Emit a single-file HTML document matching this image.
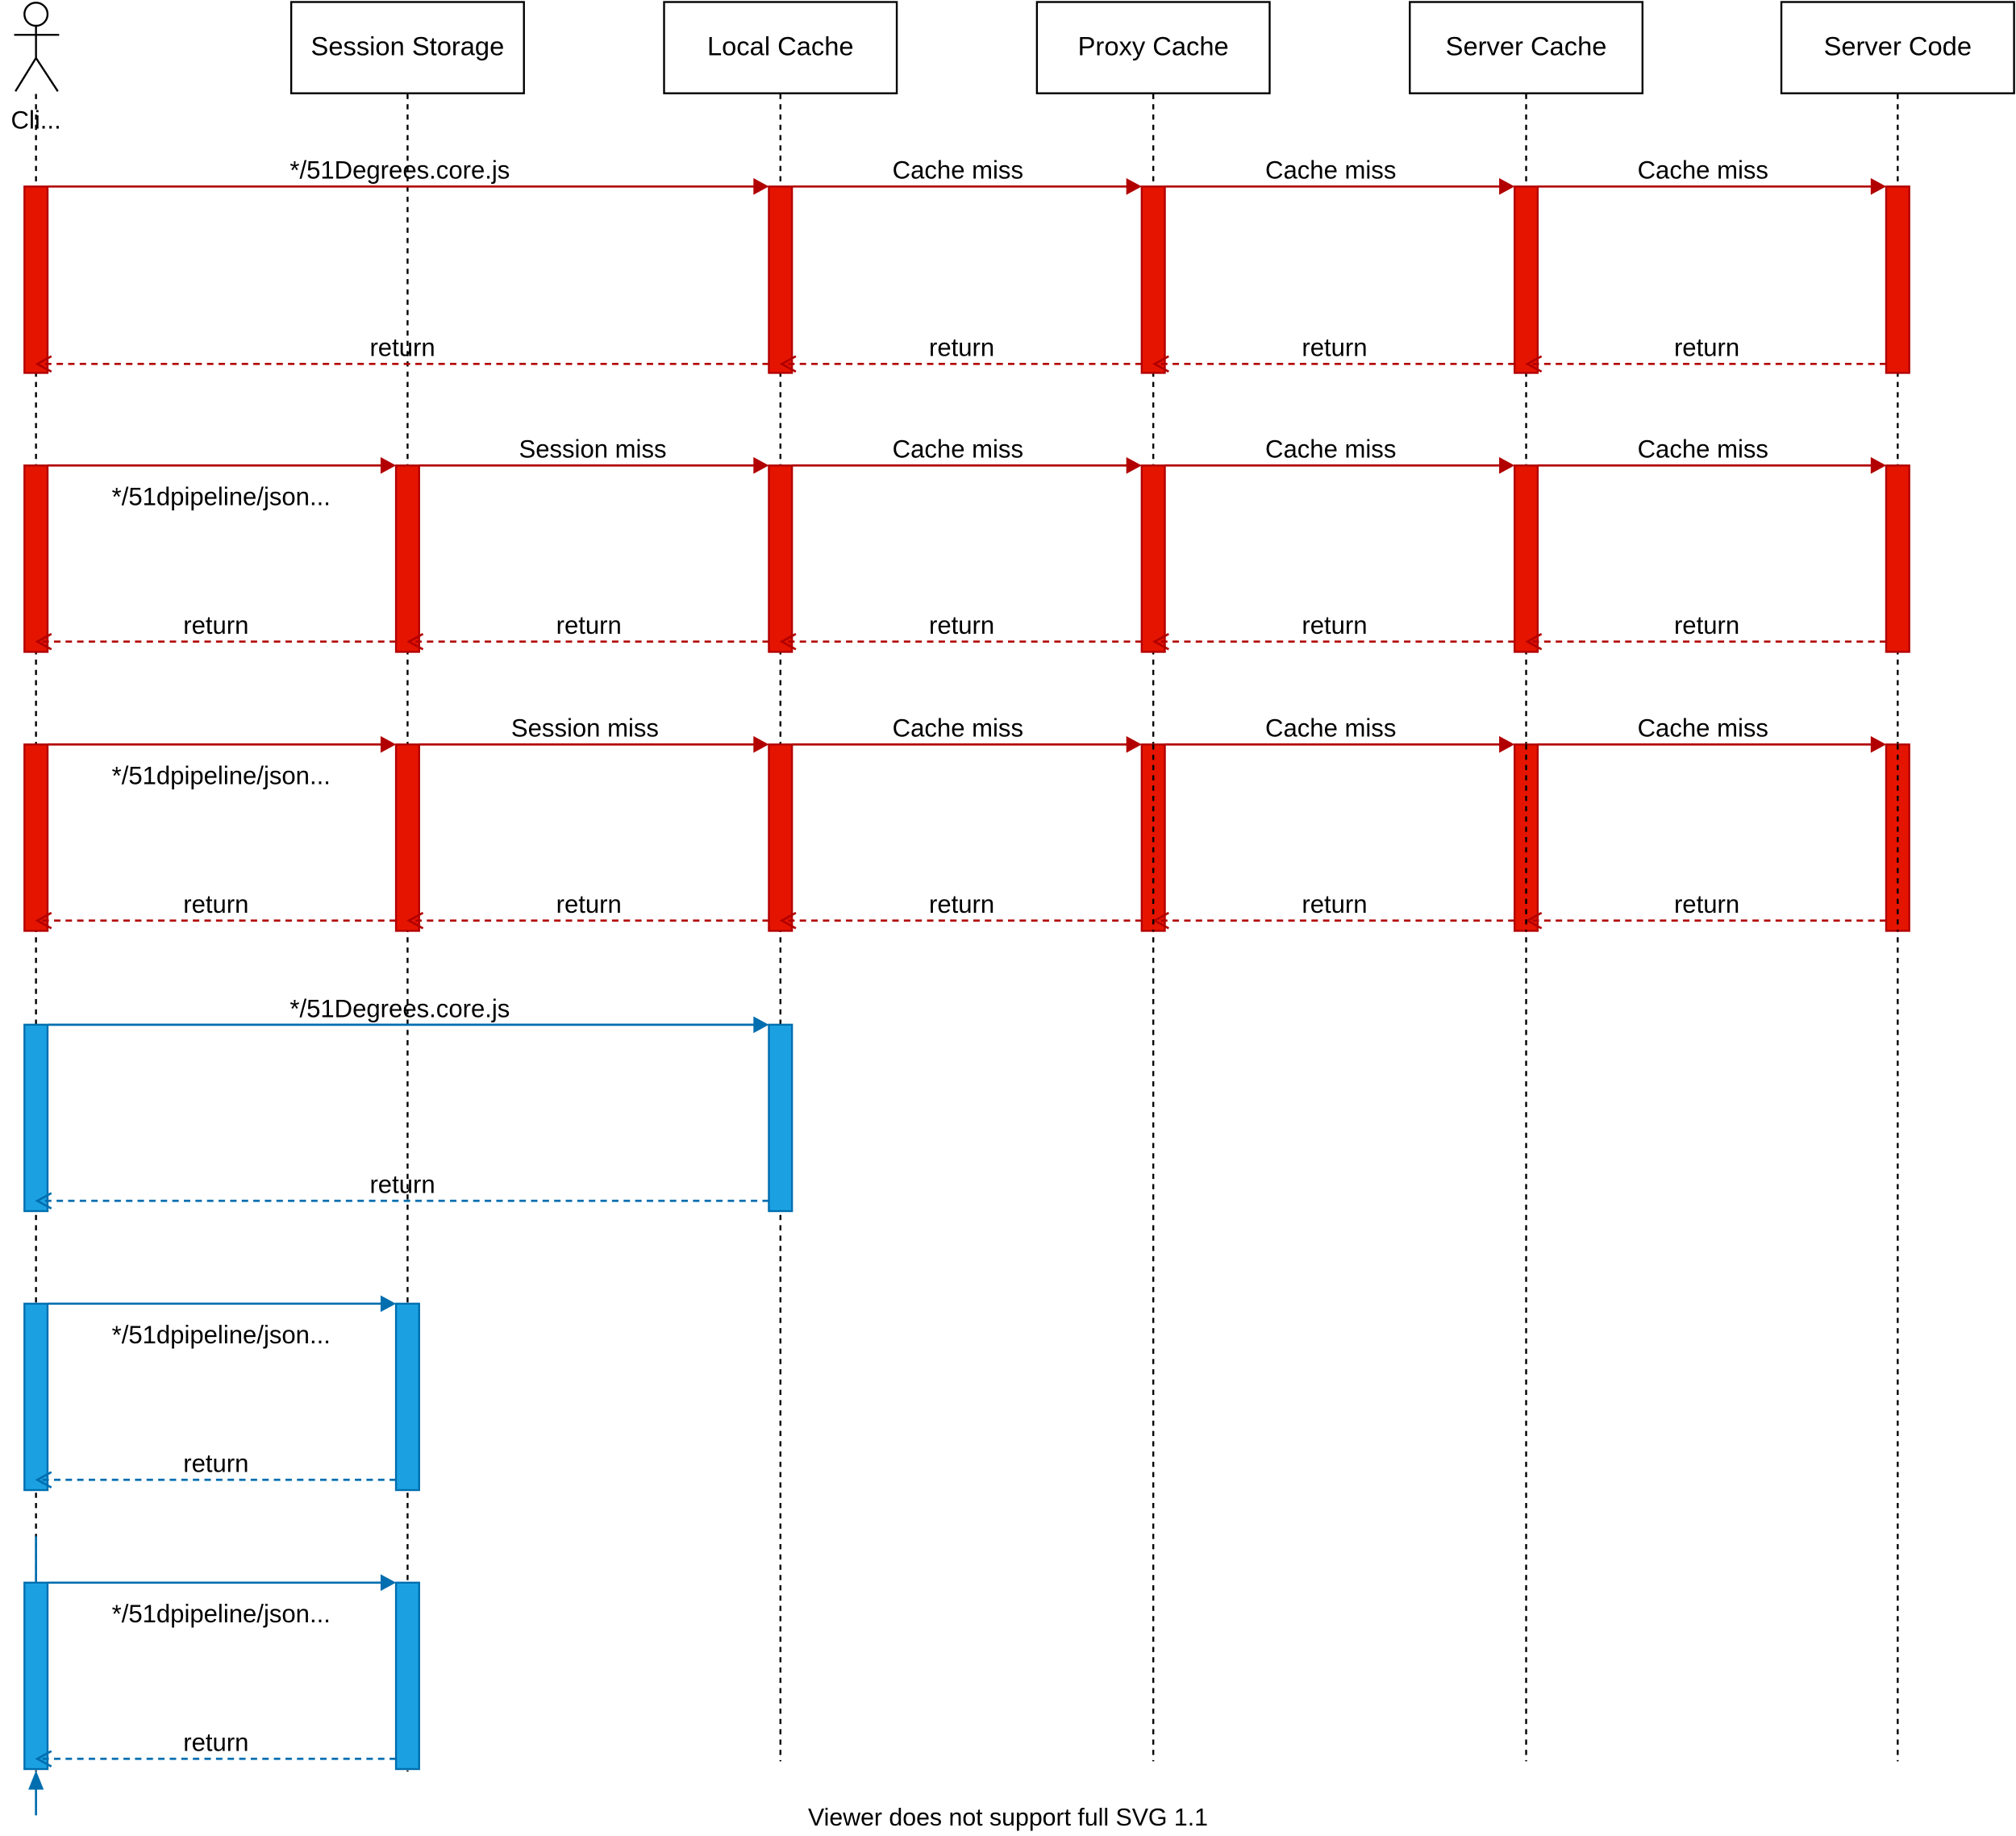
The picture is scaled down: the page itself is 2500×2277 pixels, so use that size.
<!DOCTYPE html>
<html><head><meta charset="utf-8"><style>html,body{margin:0;padding:0;background:#fff}svg{display:block}</style></head>
<body>
<svg id="s" xmlns="http://www.w3.org/2000/svg" width="2500" height="2277" viewBox="0 0 1568 1428" font-family="Liberation Sans, Arial, sans-serif"></svg>
<script>
const s=document.getElementById('s');let h='';
const X=[28,317,607,897,1187,1476];
const names=['Session Storage','Local Cache','Proxy Cache','Server Cache','Server Code'];
const R={f:'#e51400',s:'#b20000'},B={f:'#1ba1e2',s:'#006eaf'};
const FS=19.5;
X.forEach((x,i)=>{h+=`<line x1="${x}" y1="73" x2="${x}" y2="${i<2?1378:1370}" stroke="#000" stroke-dasharray="4,4" stroke-width="1.5"/>`;});
names.forEach((n,i)=>{const x=X[i+1];h+=`<rect x="${x-90.5}" y="1.5" width="181" height="71" fill="#fff" stroke="#000" stroke-width="1.5"/><text x="${x}" y="43" font-size="20.5" text-anchor="middle">${n}</text>`;});
h+=`<g stroke="#000" stroke-width="1.5" fill="none"><circle cx="28" cy="11" r="9"/><line x1="28" y1="20" x2="28" y2="45"/><line x1="11" y1="27" x2="46" y2="27"/><line x1="28" y1="45" x2="12" y2="71"/><line x1="28" y1="45" x2="45" y2="71"/></g><text x="28" y="100" font-size="${FS}" text-anchor="middle">Cli...</text>`;
function act(x,y,c){h+=`<rect x="${x-9}" y="${y}" width="18" height="145" fill="${c.f}" stroke="${c.s}" stroke-width="1.5"/>`;}
function call(x1,x2,y,c,label,lx,ly){h+=`<line x1="${x1}" y1="${y}" x2="${x2-10}" y2="${y}" stroke="${c.s}" stroke-width="1.7"/><path d="M${x2} ${y}l-12 -6.5v13z" fill="${c.s}"/>`;if(label)h+=`<text x="${lx}" y="${ly}" font-size="${FS}" text-anchor="middle">${label}</text>`;}
function ret(x1,x2,y,c,lx){h+=`<line x1="${x1}" y1="${y}" x2="${x2+1}" y2="${y}" stroke="${c.s}" stroke-width="1.7" stroke-dasharray="5,4"/><path d="M${x2+12} ${y-6}L${x2+1} ${y}L${x2+12} ${y+6}" fill="none" stroke="${c.s}" stroke-width="1.7"/><text x="${lx}" y="${y-6}" font-size="${FS}" text-anchor="middle">return</text>`;}
let y=145;[0,2,3,4,5].forEach(i=>act(X[i],y,R));
call(37,598,y,R,'*/51Degrees.core.js',311,y-6);
for(let i=2;i<5;i++)call(X[i]+9,X[i+1]-9,y,R,'Cache miss',(X[i]+X[i+1])/2-7,y-6);
ret(598,28,283,R,313);for(let i=2;i<5;i++)ret(X[i+1]-9,X[i],283,R,(X[i]+X[i+1])/2-4);
[[362,'Session miss',461],[579,'Session miss',455]].forEach(([y,sm,smx],k)=>{
 [0,1,2,3,4,5].forEach(i=>act(X[i],y,R));
 call(37,308,y,R,'*/51dpipeline/json...',172,y+31);
 call(326,598,y,R,sm,smx,y-6);
 for(let i=2;i<5;i++)call(X[i]+9,X[i+1]-9,y,R,'Cache miss',(X[i]+X[i+1])/2-7,y-6);
 const ry=y+137;ret(308,28,ry,R,168);for(let i=1;i<5;i++)ret(X[i+1]-9,X[i],ry,R,(X[i]+X[i+1])/2-4);
 if(k==1)[3,4,5].forEach(i=>{h+=`<line x1="${X[i]}" y1="${y}" x2="${X[i]}" y2="${y+145}" stroke="#000" stroke-dasharray="4,4" stroke-width="1.5"/>`;});
});
y=797;act(X[0],y,B);act(X[2],y,B);call(37,598,y,B,'*/51Degrees.core.js',311,y-6);ret(598,28,934,B,313);
[1014,1231].forEach(y=>{act(X[0],y,B);act(X[1],y,B);call(37,308,y,B,'*/51dpipeline/json...',172,y+31);ret(308,28,y+137,B,168);});
h+=`<line x1="28" y1="1195" x2="28" y2="1231" stroke="${B.s}" stroke-width="1.7"/><line x1="28" y1="1412" x2="28" y2="1386" stroke="${B.s}" stroke-width="1.7"/><path d="M28 1377l-6 15h12z" fill="${B.s}"/>`;
h+=`<text x="784" y="1420" font-size="19" text-anchor="middle">Viewer does not support full SVG 1.1</text>`;
s.innerHTML=h;
</script>
</body></html>
